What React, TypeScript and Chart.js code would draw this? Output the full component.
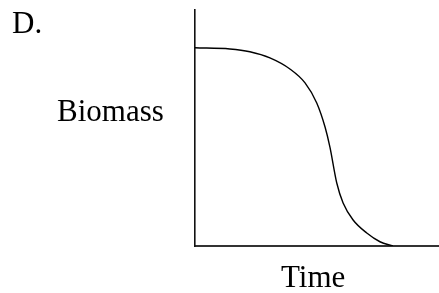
import React, { useEffect, useRef } from "react";
import { Chart, registerables } from "chart.js";

Chart.register(...registerables);

const timeValues = [0, 14.3, 22.5, 30.7, 38.9, 45.1, 49.9, 53.3, 55.3, 58.1, 60.7, 64.8, 70.4, 75.8, 81.1];
const biomassValues = [84.0, 83.5, 82.3, 79.7, 75.0, 69.1, 60.6, 50.4, 41.9, 26.7, 18.2, 11.0, 5.5, 1.8, 0];
const panelLabel = "D.";
const yLabel = "Biomass";
const xLabel = "Time";

const textPlugin = {
  id: "textLabels",
  afterDraw(chart: any) {
    const ctx = chart.ctx;
    ctx.save();
    ctx.fillStyle = "#000";
    ctx.font = '31px "Liberation Serif", "Times New Roman", serif';
    ctx.textBaseline = "alphabetic";
    ctx.textAlign = "left";
    ctx.fillText(panelLabel, 12, 33);
    ctx.fillText(yLabel, 57, 121);
    ctx.fillText(xLabel, 281, 287);
    ctx.restore();
  },
};

export default function App() {
  const ref = useRef<HTMLCanvasElement>(null);
  useEffect(() => {
    document.body.style.margin = "0";
    const chart = new Chart(ref.current!, {
      type: "line",
      data: {
        datasets: [
          {
            data: timeValues.map((t, i) => ({ x: t, y: biomassValues[i] })),
            borderColor: "#000",
            borderWidth: 1.4,
            pointRadius: 0,
            cubicInterpolationMode: "monotone",
            fill: false,
          },
        ],
      },
      options: {
        responsive: false,
        animation: false,
        devicePixelRatio: 1,
        layout: { padding: { left: 195, top: 10, right: 0, bottom: 47 } },
        plugins: { legend: { display: false }, tooltip: { enabled: false } },
        scales: {
          x: {
            type: "linear",
            min: 0,
            max: 100,
            ticks: { display: false },
            grid: { display: false, drawTicks: false },
            border: { display: true, color: "#333", width: 2 },
            afterFit: (s: any) => { s.height = 0; s.paddingLeft = 0; s.paddingRight = 0; },
          },
          y: {
            min: 0,
            max: 100,
            ticks: { display: false },
            grid: { display: false, drawTicks: false },
            border: { display: true, color: "#111", width: 1.6 },
            afterFit: (s: any) => { s.width = 0; s.paddingTop = 0; s.paddingBottom = 0; },
          },
        },
      },
      plugins: [textPlugin],
    });
    return () => chart.destroy();
  }, []);
  return (
    <div style={{ width: 439, height: 293, background: "#fff" }}>
      <canvas ref={ref} width={439} height={293} />
    </div>
  );
}
